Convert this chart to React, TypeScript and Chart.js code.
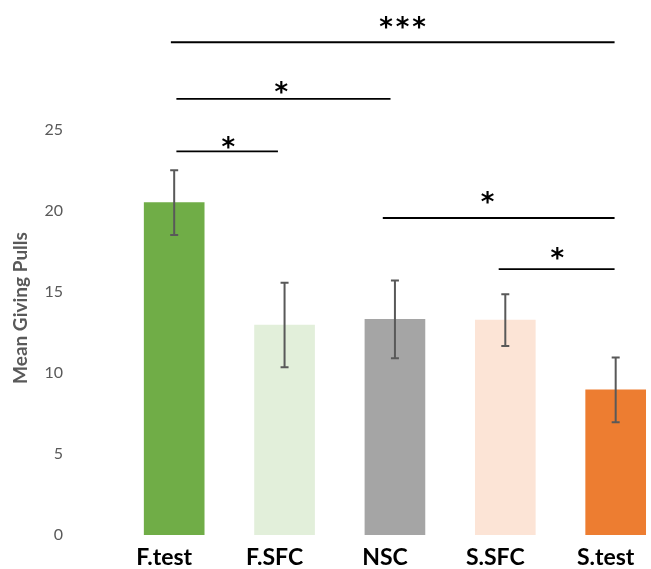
import React, { useEffect, useRef } from "react";
import { Chart, registerables } from "chart.js";

Chart.register(...registerables);

const categories: string[] = ["F.test", "F.SFC", "NSC", "S.SFC", "S.test"];
const means: number[] = [20.5, 12.95, 13.3, 13.25, 8.95];
const errors: number[] = [2.0, 2.6, 2.4, 1.6, 2.0];
const barColors: string[] = ["#70AD47", "#E2EFDA", "#A5A5A5", "#FCE4D6", "#ED7D31"];
const yTicks: number[] = [0, 5, 10, 15, 20, 25];

// significance brackets (x in category index units, y in data units)
const sigFrom: number[] = [-0.03, 0.02, 0.02, 1.89, 2.94];
const sigTo: number[] = [3.99, 1.96, 0.94, 3.99, 3.99];
const sigLineY: number[] = [30.39, 26.9, 23.66, 19.55, 16.4];
const sigLabelX: number[] = [2.07, 0.97, 0.49, 2.84, 3.47];
const sigLabelY: number[] = [31.61, 27.61, 24.21, 20.83, 17.37];
const sigLabels: string[] = ["***", "*", "*", "*", "*"];

const errorBarPlugin = {
  id: "errorBars",
  afterDatasetsDraw(chart: any) {
    const { ctx } = chart;
    const xs = chart.scales.x;
    const ys = chart.scales.y;
    ctx.save();
    ctx.strokeStyle = "#595959";
    ctx.lineWidth = 2;
    means.forEach((m, i) => {
      const x = xs.getPixelForValue(i);
      const yt = ys.getPixelForValue(m + errors[i]);
      const yb = ys.getPixelForValue(m - errors[i]);
      ctx.beginPath();
      ctx.moveTo(x, yt);
      ctx.lineTo(x, yb);
      ctx.moveTo(x - 4, yt);
      ctx.lineTo(x + 4, yt);
      ctx.moveTo(x - 4, yb);
      ctx.lineTo(x + 4, yb);
      ctx.stroke();
    });
    ctx.restore();
  },
};

const sigPlugin = {
  id: "sigBrackets",
  afterDraw(chart: any) {
    const { ctx } = chart;
    const xs = chart.scales.x;
    const ys = chart.scales.y;
    ctx.save();
    ctx.strokeStyle = "#000000";
    ctx.lineWidth = 1.8;
    ctx.fillStyle = "#000000";
    ctx.font = "bold 26px 'DejaVu Sans'";
    ctx.textAlign = "center";
    ctx.textBaseline = "alphabetic";
    const step = 16.5;
    sigFrom.forEach((f, i) => {
      const y = ys.getPixelForValue(sigLineY[i]);
      ctx.beginPath();
      ctx.moveTo(xs.getPixelForValue(f), y);
      ctx.lineTo(xs.getPixelForValue(sigTo[i]), y);
      ctx.stroke();
      const lx = xs.getPixelForValue(sigLabelX[i]);
      const ly = ys.getPixelForValue(sigLabelY[i]);
      const chars = sigLabels[i].split("");
      chars.forEach((c, k) => {
        const cx = lx + (k - (chars.length - 1) / 2) * step;
        ctx.fillText(c, cx, ly + 13.5);
      });
    });
    ctx.restore();
  },
};

export default function App() {
  const ref = useRef<HTMLCanvasElement | null>(null);
  useEffect(() => {
    if (!ref.current) return;
    const chart = new Chart(ref.current, {
      type: "bar",
      data: {
        datasets: [
          {
            data: means.map((v, i) => ({ x: i, y: v })) as any,
            backgroundColor: barColors,
            borderWidth: 0,
            barThickness: 60,
          },
        ],
      },
      options: {
        animation: false,
        responsive: false,
        layout: { padding: { top: 81, left: 0, right: 0, bottom: 0 } },
        plugins: {
          legend: { display: false },
          tooltip: { enabled: false },
        },
        scales: {
          x: {
            type: "linear",
            offset: false,
            min: -0.5,
            max: 4.32,
            grid: { display: false, drawTicks: false },
            border: { display: false },
            afterBuildTicks: (scale: any) => {
              scale.ticks = categories.map((_, i) => ({ value: i }));
            },
            afterFit: (scale: any) => {
              scale.height = 34;
              scale.paddingLeft = 0;
              scale.paddingRight = 0;
            },
            ticks: {
              autoSkip: false,
              maxRotation: 0,
              padding: 9,
              labelOffset: -10,
              color: "#000000",
              font: { family: "Lato", size: 23, weight: "bold" },
              callback: (v: any) => categories[Math.round(Number(v))] ?? "",
            },
          },
          y: {
            min: 0,
            max: 28,
            grid: { display: false, drawTicks: false },
            border: { display: false },
            afterBuildTicks: (scale: any) => {
              scale.ticks = yTicks.map((v) => ({ value: v }));
            },
            afterFit: (scale: any) => {
              scale.width = 119;
              scale.paddingTop = 0;
              scale.paddingBottom = 0;
            },
            ticks: {
              padding: 56,
              color: "#595959",
              font: { family: "Lato", size: 16 },
            },
            title: {
              display: true,
              text: "Mean Giving Pulls",
              color: "#595959",
              font: { family: "Lato", size: 19, weight: "bold" },
              padding: { top: 9, bottom: 0 },
            },
          },
        },
      },
      plugins: [errorBarPlugin, sigPlugin],
    });
    return () => chart.destroy();
  }, []);
  return (
    <div style={{ position: "fixed", left: 0, top: 0, width: 651, height: 569, background: "#ffffff" }}>
      <canvas ref={ref} width={651} height={569} />
    </div>
  );
}
